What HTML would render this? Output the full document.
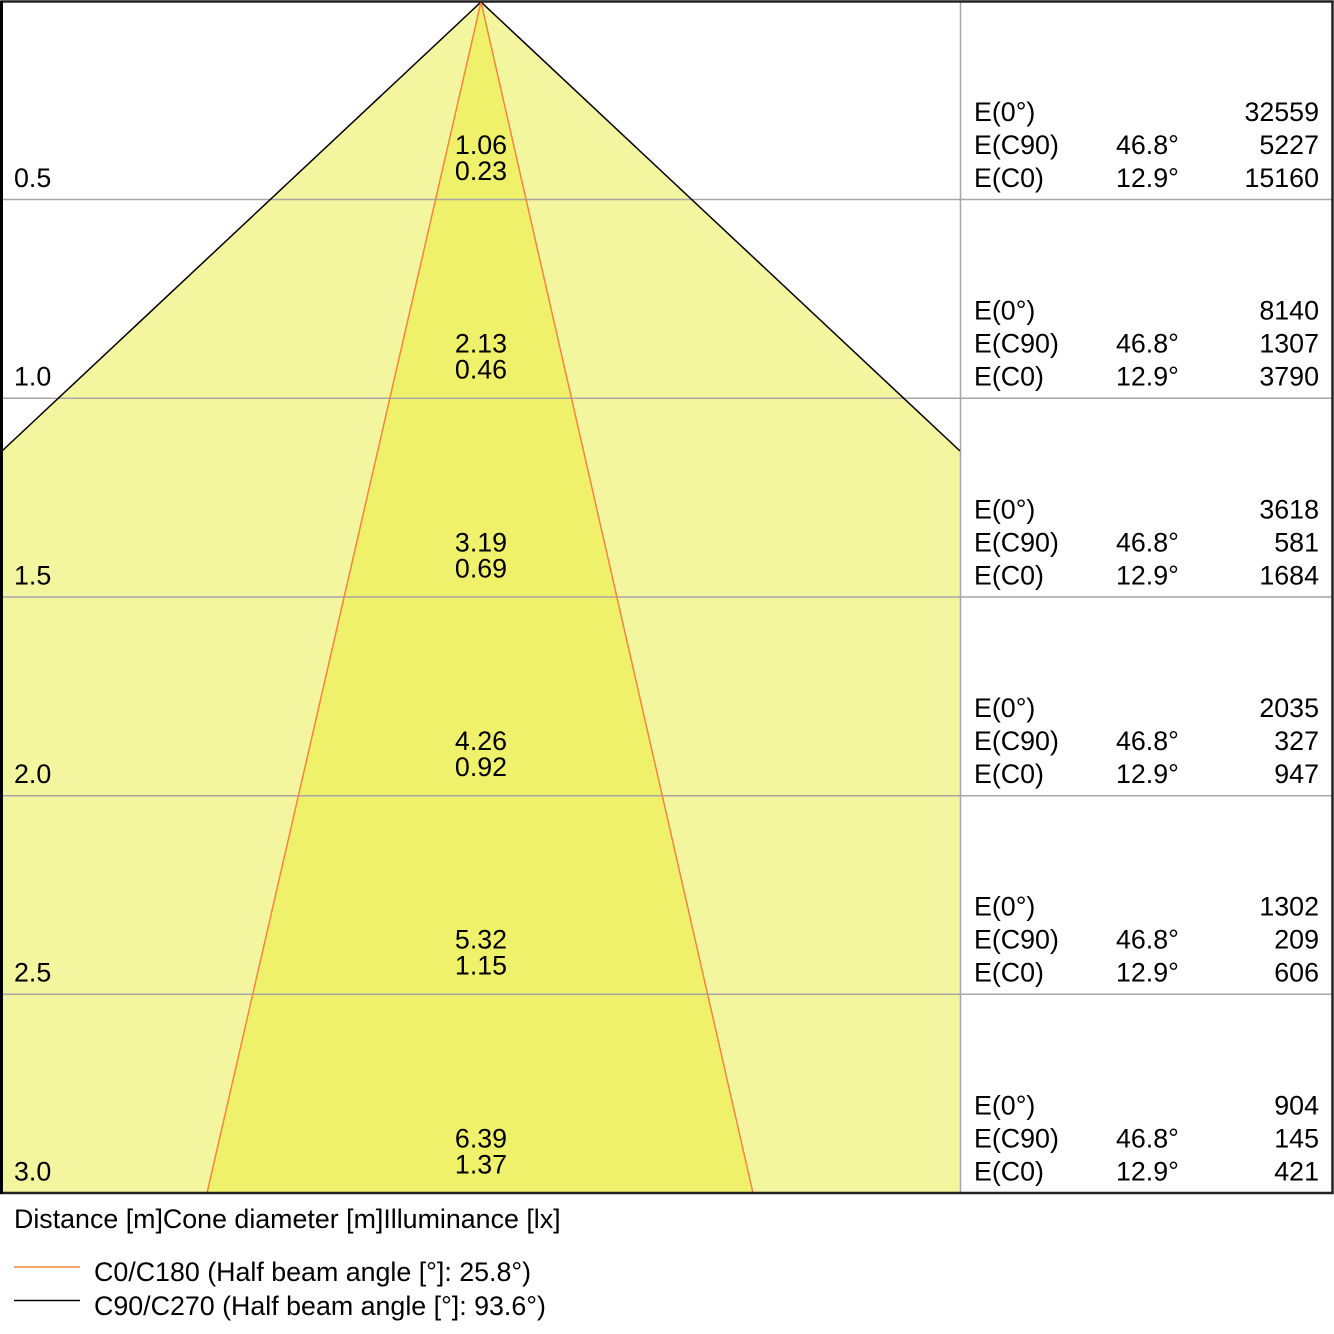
<!DOCTYPE html>
<html>
<head>
<meta charset="utf-8">
<style>
html,body{margin:0;padding:0;background:#fff;}
svg{display:block;}
text{font-family:"Liberation Sans",Arial,sans-serif;font-size:26.8px;fill:#000;}
</style>
</head>
<body>
<svg width="1334" height="1334" viewBox="0 0 1334 1334" xmlns="http://www.w3.org/2000/svg">
  <rect x="0" y="0" width="1334" height="1334" fill="#fff"/>
  <!-- wide cone -->
  <polygon points="481,2 960,451 960,1193 2,1193 2,451" fill="#f3f59f"/>
  <!-- narrow cone -->
  <polygon points="481,2 753,1193 207,1193" fill="#eff16a"/>
  <!-- grid -->
  <g stroke="#a6a6a6" stroke-width="1.5" fill="none">
    <line x1="2" y1="199.5" x2="1332" y2="199.5"/>
    <line x1="2" y1="398.3" x2="1332" y2="398.3"/>
    <line x1="2" y1="597" x2="1332" y2="597"/>
    <line x1="2" y1="795.7" x2="1332" y2="795.7"/>
    <line x1="2" y1="994.3" x2="1332" y2="994.3"/>
    <line x1="960.5" y1="2" x2="960.5" y2="1193"/>
  </g>
  <!-- cone lines -->
  <polyline points="2,451 481,2 960,451" fill="none" stroke="#000" stroke-width="1.5"/>
  <polyline points="207,1193 481,2 753,1193" fill="none" stroke="#f5843c" stroke-width="1.5"/>
  <!-- frame -->
  <rect x="1.5" y="1.5" width="1331" height="1191.5" fill="none" stroke="#222" stroke-width="2.5"/>
  <line x1="1.5" y1="1" x2="1.5" y2="1194" stroke="#000" stroke-width="3"/>

  <!-- row 0 -->
  <g>
    <text x="14" y="187">0.5</text>
    <text x="481" y="154" text-anchor="middle">1.06</text>
    <text x="481" y="180" text-anchor="middle">0.23</text>
    <text x="974" y="121">E(0°)</text>
    <text x="974" y="154">E(C90)</text>
    <text x="974" y="187">E(C0)</text>
    <text x="1116" y="154">46.8°</text>
    <text x="1116" y="187">12.9°</text>
    <text x="1319" y="121" text-anchor="end">32559</text>
    <text x="1319" y="154" text-anchor="end">5227</text>
    <text x="1319" y="187" text-anchor="end">15160</text>
  </g>
  <g transform="translate(0,198.67)">
    <text x="14" y="187">1.0</text>
    <text x="481" y="154" text-anchor="middle">2.13</text>
    <text x="481" y="180" text-anchor="middle">0.46</text>
    <text x="974" y="121">E(0°)</text>
    <text x="974" y="154">E(C90)</text>
    <text x="974" y="187">E(C0)</text>
    <text x="1116" y="154">46.8°</text>
    <text x="1116" y="187">12.9°</text>
    <text x="1319" y="121" text-anchor="end">8140</text>
    <text x="1319" y="154" text-anchor="end">1307</text>
    <text x="1319" y="187" text-anchor="end">3790</text>
  </g>
  <g transform="translate(0,397.33)">
    <text x="14" y="187">1.5</text>
    <text x="481" y="154" text-anchor="middle">3.19</text>
    <text x="481" y="180" text-anchor="middle">0.69</text>
    <text x="974" y="121">E(0°)</text>
    <text x="974" y="154">E(C90)</text>
    <text x="974" y="187">E(C0)</text>
    <text x="1116" y="154">46.8°</text>
    <text x="1116" y="187">12.9°</text>
    <text x="1319" y="121" text-anchor="end">3618</text>
    <text x="1319" y="154" text-anchor="end">581</text>
    <text x="1319" y="187" text-anchor="end">1684</text>
  </g>
  <g transform="translate(0,596)">
    <text x="14" y="187">2.0</text>
    <text x="481" y="154" text-anchor="middle">4.26</text>
    <text x="481" y="180" text-anchor="middle">0.92</text>
    <text x="974" y="121">E(0°)</text>
    <text x="974" y="154">E(C90)</text>
    <text x="974" y="187">E(C0)</text>
    <text x="1116" y="154">46.8°</text>
    <text x="1116" y="187">12.9°</text>
    <text x="1319" y="121" text-anchor="end">2035</text>
    <text x="1319" y="154" text-anchor="end">327</text>
    <text x="1319" y="187" text-anchor="end">947</text>
  </g>
  <g transform="translate(0,794.67)">
    <text x="14" y="187">2.5</text>
    <text x="481" y="154" text-anchor="middle">5.32</text>
    <text x="481" y="180" text-anchor="middle">1.15</text>
    <text x="974" y="121">E(0°)</text>
    <text x="974" y="154">E(C90)</text>
    <text x="974" y="187">E(C0)</text>
    <text x="1116" y="154">46.8°</text>
    <text x="1116" y="187">12.9°</text>
    <text x="1319" y="121" text-anchor="end">1302</text>
    <text x="1319" y="154" text-anchor="end">209</text>
    <text x="1319" y="187" text-anchor="end">606</text>
  </g>
  <g transform="translate(0,993.33)">
    <text x="14" y="187">3.0</text>
    <text x="481" y="154" text-anchor="middle">6.39</text>
    <text x="481" y="180" text-anchor="middle">1.37</text>
    <text x="974" y="121">E(0°)</text>
    <text x="974" y="154">E(C90)</text>
    <text x="974" y="187">E(C0)</text>
    <text x="1116" y="154">46.8°</text>
    <text x="1116" y="187">12.9°</text>
    <text x="1319" y="121" text-anchor="end">904</text>
    <text x="1319" y="154" text-anchor="end">145</text>
    <text x="1319" y="187" text-anchor="end">421</text>
  </g>

  <!-- footer -->
  <text x="14" y="1228">Distance [m]Cone diameter [m]Illuminance [lx]</text>
  <line x1="14" y1="1267" x2="80" y2="1267" stroke="#f5843c" stroke-width="1.5"/>
  <text x="94" y="1281">C0/C180 (Half beam angle [°]: 25.8°)</text>
  <line x1="14" y1="1300.5" x2="80" y2="1300.5" stroke="#000" stroke-width="1.5"/>
  <text x="94" y="1315">C90/C270 (Half beam angle [°]: 93.6°)</text>
</svg>
</body>
</html>
